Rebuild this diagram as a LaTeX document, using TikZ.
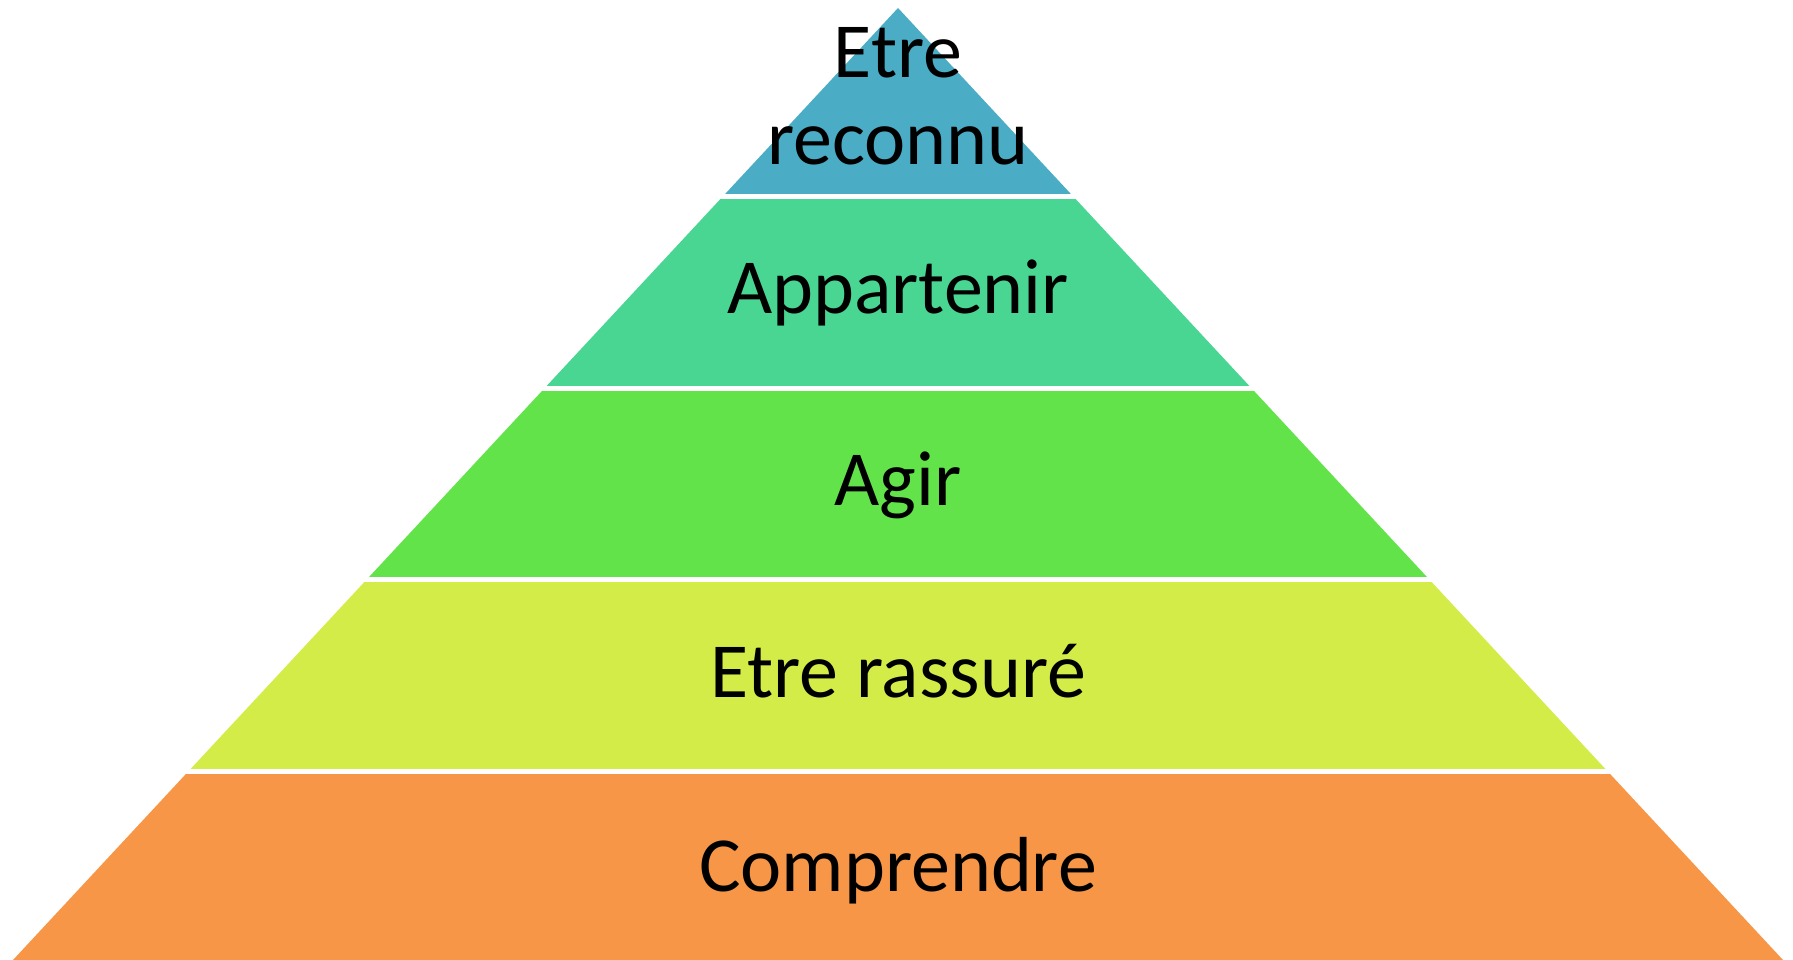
\documentclass[tikz,border=0pt]{standalone}
\usepackage{fontspec}
\setmainfont{Carlito}
\usepackage{xcolor}
\usepackage{tikz}
\usetikzlibrary{positioning}

\definecolor{bluelvl}{HTML}{4BACC6}
\definecolor{mintlvl}{HTML}{49D592}
\definecolor{greenlvl}{HTML}{62E34A}
\definecolor{limelvl}{HTML}{D4EC47}
\definecolor{orangelvl}{HTML}{F79646}

\begin{document}
\begin{tikzpicture}[x=1pt, y=1pt,
    level/.style={inner sep=0pt, anchor=base, align=center, font=\fontsize{78}{87}\selectfont},
]
    \useasboundingbox (0,0) rectangle (1793,960);

    % pyramid, cut into five bands
    \begin{scope}
        \clip (13,0) -- (898,952) -- (1783,0) -- cycle;
        \foreach \ybot/\ytop/\col in {0/186.4/orangelvl, 191.4/377.8/limelvl, 382.8/569.2/greenlvl, 574.2/760.6/mintlvl, 765.6/960/bluelvl}
            \fill[\col] (0,\ybot) rectangle (1793,\ytop);
    \end{scope}

    \node[level] (reconnu)   at (898,795) {Etre\\reconnu};
    \node[level] (appart)    at (898,646) {Appartenir};
    \node[level] (agir)      at (898,454) {Agir};
    \node[level] (rassure)   at (898,262) {Etre rassuré};
    \node[level] (comprend)  at (898,68)  {Comprendre};
\end{tikzpicture}
\end{document}
